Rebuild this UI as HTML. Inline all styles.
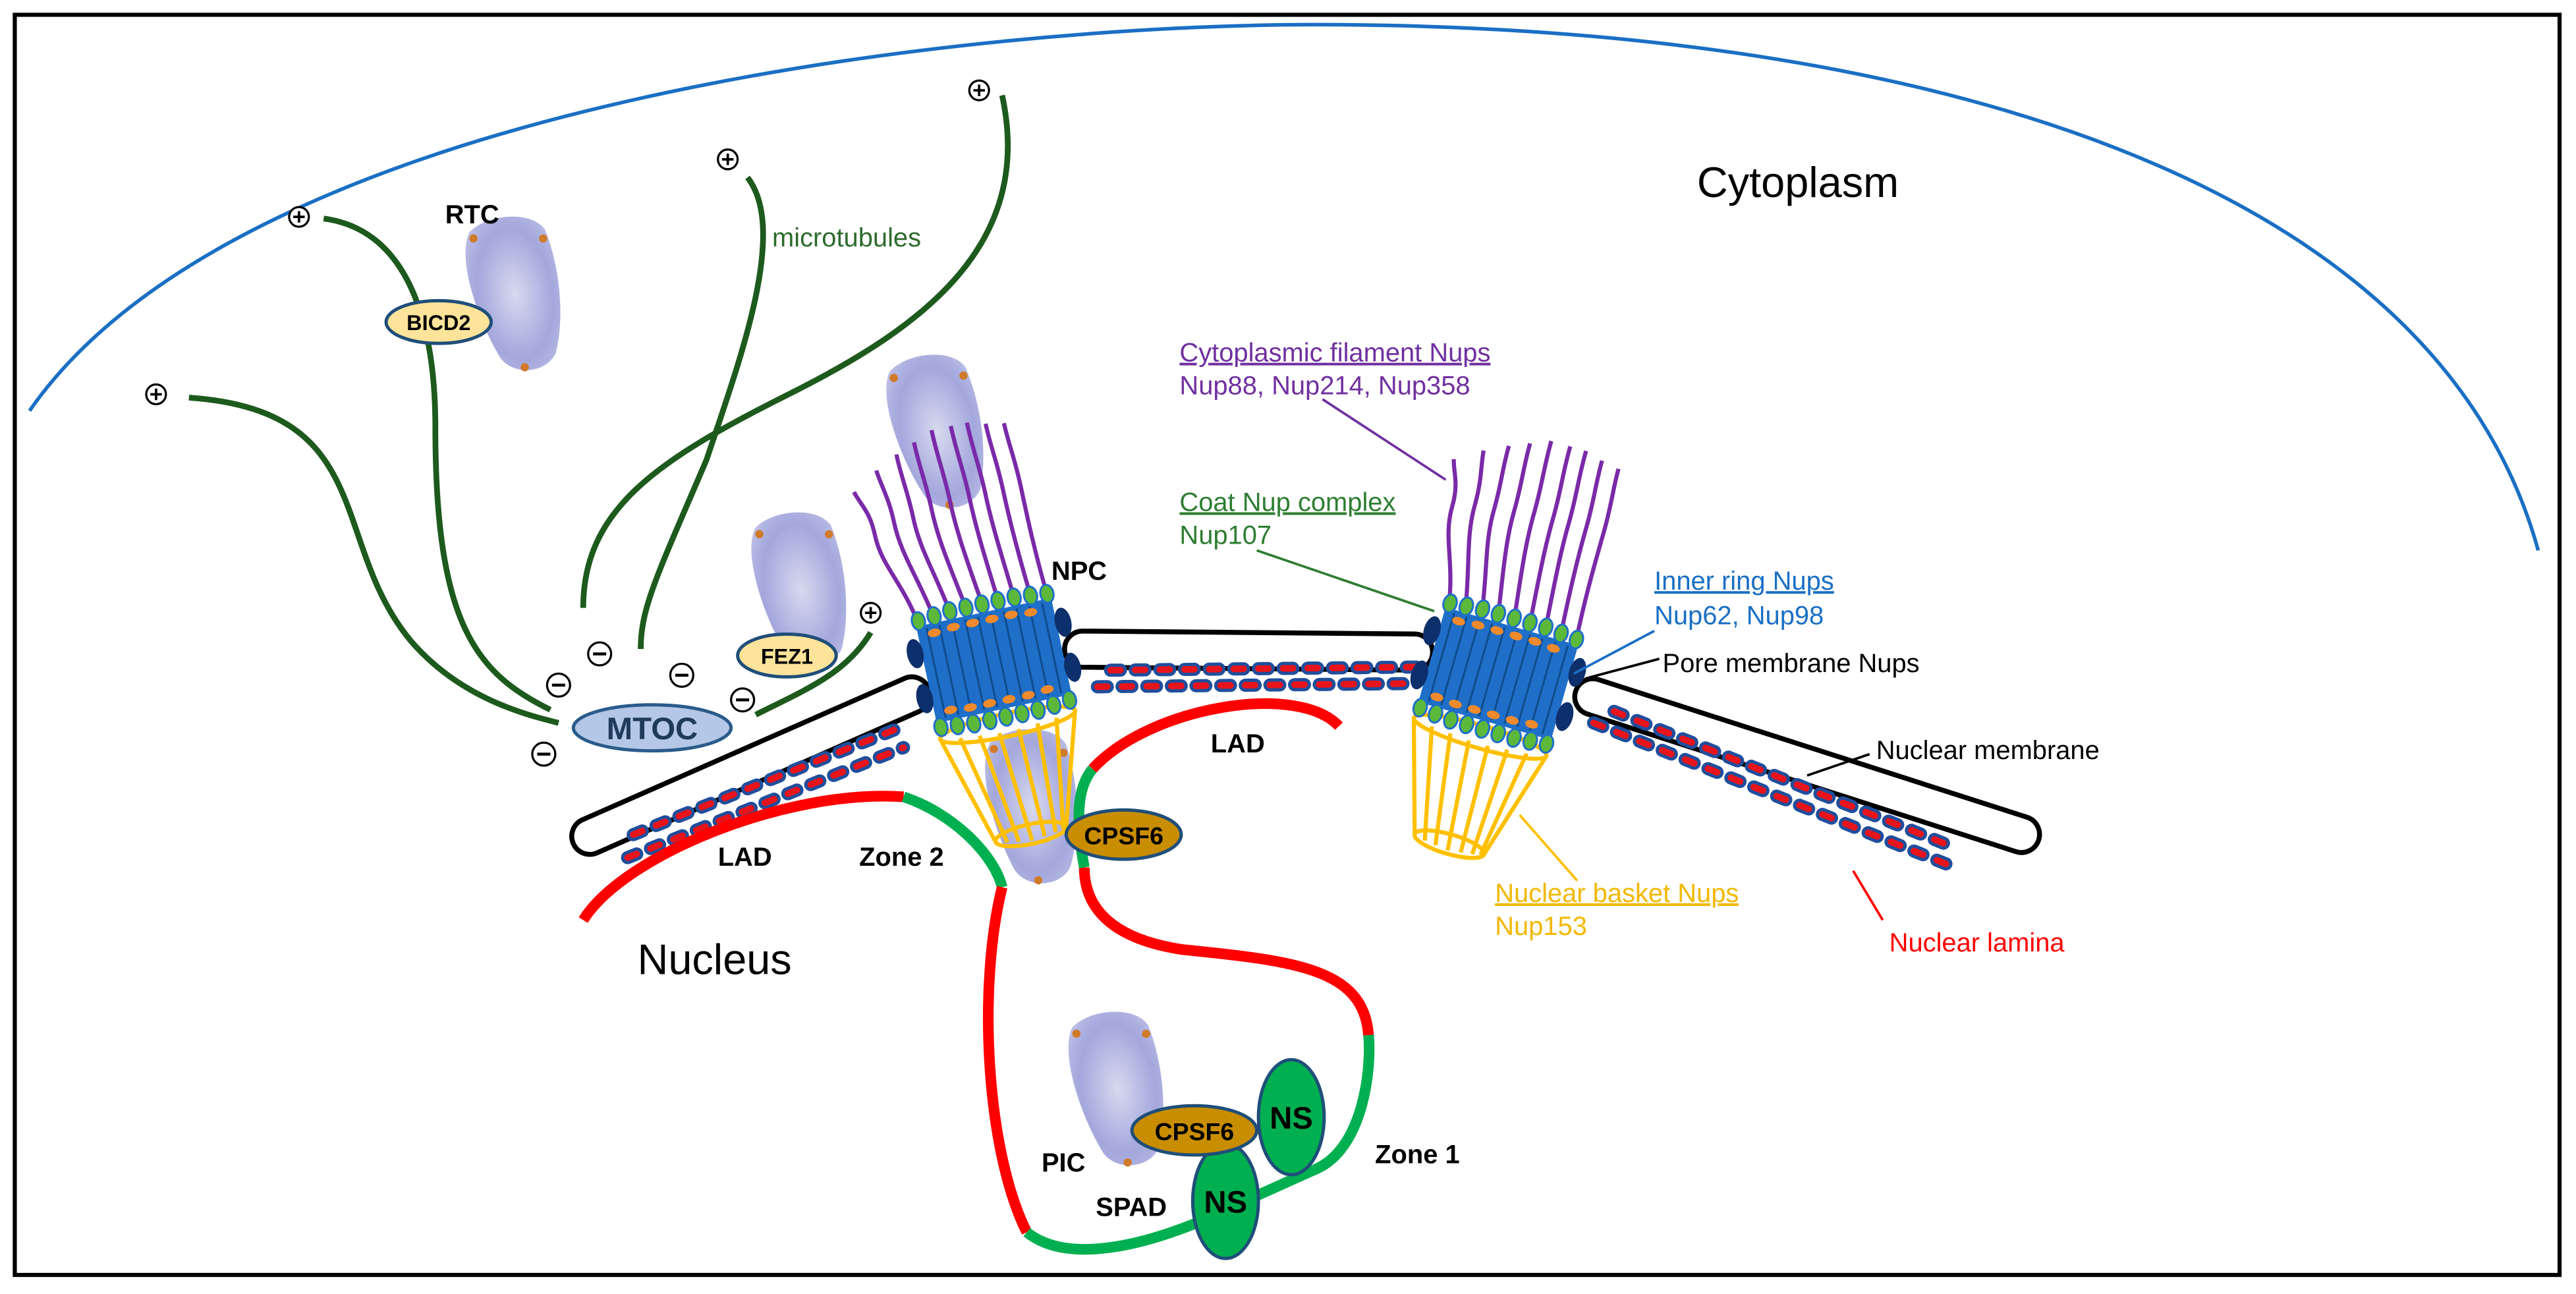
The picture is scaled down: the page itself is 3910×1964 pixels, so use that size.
<!DOCTYPE html>
<html><head><meta charset="utf-8"><style>
html,body{margin:0;padding:0;background:#fff;}
svg{display:block;}
text{font-family:"Liberation Sans",Arial,sans-serif;}
</style></head><body>
<svg width="3910" height="1964" viewBox="0 0 1568 787.6" xmlns="http://www.w3.org/2000/svg">
<defs>
<radialGradient id="cap" cx="50%" cy="50%" r="60%">
<stop offset="0" stop-color="#d7d9ef"/><stop offset="0.7" stop-color="#a3a7dc"/><stop offset="1" stop-color="#8f94d4" stop-opacity="0.6"/>
</radialGradient>
<g id="capsid">
<path d="M-22,-40 C-10,-50 18,-48 24,-35 C30,-10 28,20 20,40 C12,52 -8,50 -14,38 C-24,15 -32,-25 -22,-40 Z" fill="url(#cap)"/>
<circle cx="-20" cy="-36" r="2.5" fill="#d07a2a"/><circle cx="22" cy="-30" r="2.5" fill="#d07a2a"/><circle cx="0" cy="46" r="2.5" fill="#d07a2a"/>
</g>
<g id="npc">
<g fill="none" stroke="#7a2aa8" stroke-width="2.5">
<path d="M-40,-30 C-45,-60 -55,-70 -55,-90 C-55,-105 -60,-110 -62,-118"/>
<path d="M-30,-32 C-35,-60 -42,-75 -42,-95 C-42,-110 -45,-118 -46,-128"/>
<path d="M-20,-34 C-24,-60 -30,-75 -30,-95 C-30,-112 -32,-120 -32,-135"/>
<path d="M-10,-35 C-14,-60 -18,-78 -18,-98 C-18,-115 -20,-125 -20,-140"/>
<path d="M0,-36 C-3,-60 -6,-80 -6,-100 C-6,-118 -8,-128 -8,-145"/>
<path d="M10,-36 C8,-60 6,-80 6,-100 C6,-118 4,-128 4,-145"/>
<path d="M20,-35 C18,-60 16,-80 16,-100 C16,-118 14,-128 14,-145"/>
<path d="M30,-34 C28,-60 27,-80 27,-100 C27,-118 25,-128 25,-142"/>
<path d="M40,-32 C38,-60 38,-80 38,-100 C38,-118 36,-128 36,-140"/>
</g>
<g fill="none" stroke="#ffc000" stroke-width="2.5">
<ellipse cx="0" cy="40" rx="42" ry="7"/>
<ellipse cx="0" cy="108" rx="22" ry="6"/>
<path d="M-42,40 L-22,108 M42,40 L22,108 M-30,42 L-15,110 M-18,43 L-8,111 M-6,44 L0,112 M6,44 L8,111 M18,43 L15,110 M30,42 L20,109"/>
</g>
<rect x="-42" y="-30" width="84" height="60" fill="#1f6fc9"/>
<g stroke="#0f4c8c" stroke-width="1.2">
<path d="M-36,-28V28 M-28,-28V28 M-20,-28V28 M-12,-28V28 M-4,-28V28 M4,-28V28 M12,-28V28 M20,-28V28 M28,-28V28 M36,-28V28"/>
</g>
<ellipse cx="-46" cy="-14" rx="5" ry="9" fill="#0d2f6b"/><ellipse cx="-46" cy="14" rx="5" ry="9" fill="#0d2f6b"/>
<ellipse cx="46" cy="-14" rx="5" ry="9" fill="#0d2f6b"/><ellipse cx="46" cy="14" rx="5" ry="9" fill="#0d2f6b"/>
<g fill="#5cb83a" stroke="#1f6fc9" stroke-width="1.2">
<ellipse cx="-40" cy="-33" rx="4" ry="5.5"/><ellipse cx="-30" cy="-34" rx="4" ry="5.5"/><ellipse cx="-20" cy="-35" rx="4" ry="5.5"/><ellipse cx="-10" cy="-35" rx="4" ry="5.5"/><ellipse cx="0" cy="-35" rx="4" ry="5.5"/><ellipse cx="10" cy="-35" rx="4" ry="5.5"/><ellipse cx="20" cy="-35" rx="4" ry="5.5"/><ellipse cx="30" cy="-34" rx="4" ry="5.5"/><ellipse cx="40" cy="-33" rx="4" ry="5.5"/>
<ellipse cx="-40" cy="33" rx="4" ry="5.5"/><ellipse cx="-30" cy="34" rx="4" ry="5.5"/><ellipse cx="-20" cy="35" rx="4" ry="5.5"/><ellipse cx="-10" cy="35" rx="4" ry="5.5"/><ellipse cx="0" cy="35" rx="4" ry="5.5"/><ellipse cx="10" cy="35" rx="4" ry="5.5"/><ellipse cx="20" cy="35" rx="4" ry="5.5"/><ellipse cx="30" cy="34" rx="4" ry="5.5"/><ellipse cx="40" cy="33" rx="4" ry="5.5"/>
</g>
<g fill="#f08a2c">
<ellipse cx="-32" cy="-24" rx="4" ry="2.5"/><ellipse cx="-20" cy="-25" rx="4" ry="2.5"/><ellipse cx="-8" cy="-25" rx="4" ry="2.5"/><ellipse cx="4" cy="-25" rx="4" ry="2.5"/><ellipse cx="16" cy="-25" rx="4" ry="2.5"/><ellipse cx="28" cy="-24" rx="4" ry="2.5"/>
<ellipse cx="-32" cy="24" rx="4" ry="2.5"/><ellipse cx="-20" cy="25" rx="4" ry="2.5"/><ellipse cx="-8" cy="25" rx="4" ry="2.5"/><ellipse cx="4" cy="25" rx="4" ry="2.5"/><ellipse cx="16" cy="25" rx="4" ry="2.5"/><ellipse cx="28" cy="24" rx="4" ry="2.5"/>
</g>
</g>
<g id="plus"><circle r="6" fill="#fff" stroke="#000" stroke-width="1.3"/><path d="M-3.5,0H3.5M0,-3.5V3.5" stroke="#000" stroke-width="1.5"/></g>
<g id="minus"><circle r="7" fill="#fff" stroke="#000" stroke-width="1.3"/><path d="M-4,0H4" stroke="#000" stroke-width="1.8"/></g>
</defs>

<rect x="9" y="9" width="1549" height="767" fill="#fff" stroke="#000" stroke-width="2.5"/>
<path d="M18,250 C150,60 600,15 800,15 C1150,15 1480,100 1545,335" fill="none" stroke="#1a6fc4" stroke-width="2.2"/>

<g fill="none" stroke="#1d5a1d" stroke-width="3.5">
<path d="M115,242 C230,250 200,330 250,390 C280,425 320,435 340,440"/>
<path d="M197,133 C250,140 265,200 265,260 C265,380 290,410 335,432"/>
<path d="M455,108 C480,140 450,220 430,280 C400,350 390,370 390,395"/>
<path d="M610,58 C630,150 560,200 480,240 C400,280 355,310 355,370"/>
<path d="M530,385 C515,410 490,420 460,435"/>
</g>
<use href="#plus" x="182" y="132"/><use href="#plus" x="443" y="97"/><use href="#plus" x="596" y="55"/><use href="#plus" x="95" y="240"/><use href="#plus" x="530" y="373"/>
<use href="#minus" x="340" y="417"/><use href="#minus" x="365" y="398"/><use href="#minus" x="415" y="411"/><use href="#minus" x="331" y="459"/><use href="#minus" x="452" y="426"/>

<use href="#capsid" transform="translate(313,178) rotate(-8)"/>
<use href="#capsid" transform="translate(570,262) rotate(-10)"/>
<use href="#capsid" transform="translate(487,358) rotate(-8)"/>
<use href="#capsid" transform="translate(628,490) rotate(-5)"/>
<use href="#capsid" transform="translate(680,662) rotate(-8)"/>

<ellipse cx="397" cy="443" rx="48" ry="14" fill="#b4c7e7" stroke="#2a5b8a" stroke-width="2"/>
<text x="397" y="450" font-size="19" font-weight="bold" text-anchor="middle" fill="#1f3a5a">MTOC</text>
<ellipse cx="267" cy="196" rx="32" ry="13" fill="#fde49a" stroke="#1f4e79" stroke-width="2"/>
<text x="267" y="201" font-size="13" font-weight="bold" text-anchor="middle">BICD2</text>
<ellipse cx="479" cy="399" rx="30" ry="13" fill="#fde49a" stroke="#1f4e79" stroke-width="2"/>
<text x="479" y="404" font-size="13" font-weight="bold" text-anchor="middle">FEZ1</text>

<g fill="#fff" stroke="#000" stroke-width="3">
<rect x="-118" y="-11" width="236" height="22" rx="11" transform="translate(457,466) rotate(-23.7)"/>
<rect x="-112" y="-11" width="224" height="22" rx="11" transform="translate(760,396) rotate(0.5)"/>
<rect x="-148" y="-11" width="296" height="22" rx="11" transform="translate(1100,466) rotate(17.8)"/>
</g>
<g fill="none" stroke-linecap="round">
<g stroke="#1f4e9c" stroke-width="8" stroke-dasharray="6 9">
<path d="M382,522 L550,455"/><path d="M378,511 L545,444" stroke-dashoffset="7"/>
<path d="M668,418 L862,416"/><path d="M668,408 L862,406" stroke-dashoffset="7"/>
<path d="M970,440 L1185,526"/><path d="M975,430 L1190,516" stroke-dashoffset="7"/>
</g>
<g stroke="#e8141c" stroke-width="4" stroke-dasharray="6 9">
<path d="M382,522 L550,455"/><path d="M378,511 L545,444" stroke-dashoffset="7"/>
<path d="M668,418 L862,416"/><path d="M668,408 L862,406" stroke-dashoffset="7"/>
<path d="M970,440 L1185,526"/><path d="M975,430 L1190,516" stroke-dashoffset="7"/>
</g>
</g>

<use href="#npc" transform="translate(605,402) rotate(-12)"/>
<use href="#npc" transform="translate(912,410) rotate(16)"/>

<g fill="none" stroke-width="6.5">
<path d="M355,560 C380,520 480,480 550,485" stroke="#ff0000"/>
<path d="M550,485 C580,495 605,520 610,540" stroke="#00b050"/>
<path d="M610,540 C595,600 600,700 625,750" stroke="#ff0000"/>
<path d="M625,750 C650,770 700,760 760,730 L800,712" stroke="#00b050"/>
<path d="M800,712 C830,700 835,650 833,630" stroke="#00b050"/>
<path d="M833,630 C830,590 790,585 720,578 C680,572 660,555 660,528" stroke="#ff0000"/>
<path d="M660,528 C655,500 655,480 665,468" stroke="#00b050"/>
<path d="M665,468 C700,430 790,415 815,442" stroke="#ff0000"/>
</g>

<ellipse cx="684" cy="508" rx="35" ry="15" fill="#c98d00" stroke="#1f4e79" stroke-width="2"/>
<text x="684" y="514" font-size="15" font-weight="bold" text-anchor="middle">CPSF6</text>
<ellipse cx="746" cy="731" rx="20" ry="35" fill="#00b050" stroke="#1f4e79" stroke-width="2"/>
<ellipse cx="786" cy="680" rx="20" ry="35" fill="#00b050" stroke="#1f4e79" stroke-width="2"/>
<ellipse cx="727" cy="688" rx="38" ry="15" fill="#c98d00" stroke="#1f4e79" stroke-width="2"/>
<text x="727" y="694" font-size="15" font-weight="bold" text-anchor="middle">CPSF6</text>
<text x="746" y="738" font-size="19" font-weight="bold" text-anchor="middle">NS</text>
<text x="786" y="687" font-size="19" font-weight="bold" text-anchor="middle">NS</text>

<g fill="none" stroke-width="1.5">
<path d="M805,243 L880,292" stroke="#7030a0"/>
<path d="M765,335 L873,372" stroke="#2e7d32"/>
<path d="M1007,384 L958,410" stroke="#1a6fc4"/>
<path d="M1010,401 L965,413" stroke="#000"/>
<path d="M1138,459 L1100,472" stroke="#000"/>
<path d="M960,536 L925,496" stroke="#ffc000"/>
<path d="M1146,560 L1128,530" stroke="#ff0000"/>
</g>

<text x="1033" y="120" font-size="26">Cytoplasm</text>
<text x="388" y="593" font-size="26">Nucleus</text>
<g font-size="16" font-weight="bold">
<text x="271" y="136">RTC</text>
<text x="640" y="353">NPC</text>
<text x="437" y="527">LAD</text>
<text x="737" y="458">LAD</text>
<text x="523" y="527">Zone 2</text>
<text x="837" y="708">Zone 1</text>
<text x="634" y="713">PIC</text>
<text x="667" y="740">SPAD</text>
</g>
<g font-size="16">
<text x="470" y="150" fill="#2d6b2d">microtubules</text>
<text x="718" y="220" fill="#7030a0" text-decoration="underline">Cytoplasmic filament Nups</text>
<text x="718" y="240" fill="#7030a0">Nup88, Nup214, Nup358</text>
<text x="718" y="311" fill="#2e7d32" text-decoration="underline">Coat Nup complex</text>
<text x="718" y="331" fill="#2e7d32">Nup107</text>
<text x="1007" y="359" fill="#1a6fc4" text-decoration="underline">Inner ring Nups</text>
<text x="1007" y="380" fill="#1a6fc4">Nup62, Nup98</text>
<text x="1012" y="409" fill="#000">Pore membrane Nups</text>
<text x="1142" y="462" fill="#000">Nuclear membrane</text>
<text x="910" y="549" fill="#f2b800" text-decoration="underline">Nuclear basket Nups</text>
<text x="910" y="569" fill="#f2b800">Nup153</text>
<text x="1150" y="579" fill="#ff0000">Nuclear lamina</text>
</g>
</svg>
</body></html>
